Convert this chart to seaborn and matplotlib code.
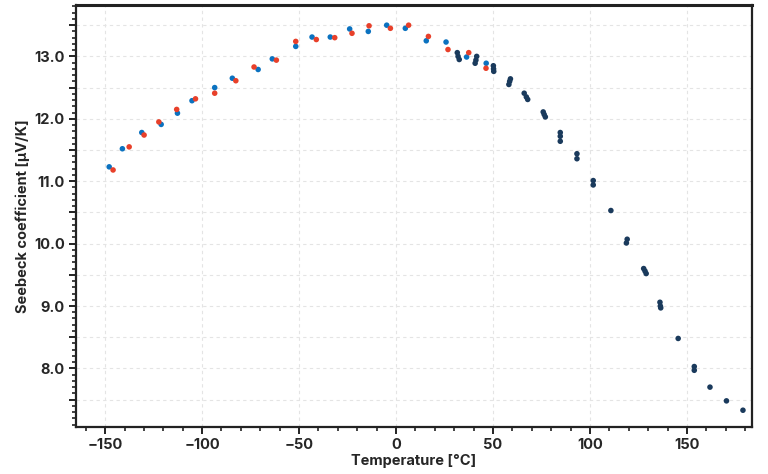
import seaborn as sns
import numpy as np
import pandas as pd
import matplotlib
matplotlib.use("Agg")
import matplotlib.pyplot as plt
from matplotlib.ticker import MultipleLocator, FuncFormatter


# series 1 (blue)
t_blue = [-147.9, -141.1, -131.1, -121.1, -112.7, -105.2, -93.5, -84.4, -71.1, -63.8,
          -51.7, -43.3, -33.9, -23.9, -14.3, -4.8, 4.8, 15.6, 25.8, 36.4, 46.5]
s_blue = [11.23, 11.52, 11.78, 11.91, 12.09, 12.29, 12.50, 12.65, 12.79, 12.96,
          13.16, 13.31, 13.31, 13.44, 13.40, 13.50, 13.45, 13.25, 13.23, 12.99, 12.89]

# series 2 (red)
t_red = [-145.9, -137.6, -129.9, -122.3, -113.1, -103.4, -93.5, -82.6, -73.2, -61.7,
         -51.7, -41.1, -31.6, -22.7, -13.9, -2.9, 6.5, 16.7, 26.8, 37.5, 46.4]
s_red = [11.18, 11.55, 11.74, 11.95, 12.15, 12.32, 12.41, 12.61, 12.83, 12.94,
         13.24, 13.27, 13.30, 13.37, 13.49, 13.45, 13.50, 13.32, 13.11, 13.06, 12.81]

# series 3 (navy)
t_navy = [31.6, 32.0, 32.6, 41.6, 41.2, 40.8, 50.2, 50.3, 50.4,
          59.0, 58.6, 58.2, 66.1, 67.2, 67.9, 75.9, 76.4, 77.0,
          84.7, 84.7, 84.7, 93.3, 93.3, 101.7, 101.7, 110.8,
          119.2, 118.8, 127.7, 128.4, 129.0, 136.1, 136.3, 136.5,
          145.5, 153.8, 153.8, 161.9, 170.4, 178.9]
s_navy = [13.06, 13.00, 12.95, 13.00, 12.94, 12.89, 12.85, 12.80, 12.76,
          12.64, 12.60, 12.55, 12.41, 12.35, 12.31, 12.11, 12.07, 12.03,
          11.78, 11.72, 11.64, 11.44, 11.36, 11.01, 10.94, 10.53,
          10.07, 10.01, 9.60, 9.56, 9.52, 9.06, 9.00, 8.97,
          8.48, 8.03, 7.97, 7.70, 7.48, 7.33]

series_names = ["run 1", "run 2", "run 3"]
series_colors = ["#0b72c0", "#e8402a", "#1a3a5c"]

df = pd.concat([
    pd.DataFrame({"T": t_blue, "S": s_blue, "run": series_names[0]}),
    pd.DataFrame({"T": t_red, "S": s_red, "run": series_names[1]}),
    pd.DataFrame({"T": t_navy, "S": s_navy, "run": series_names[2]}),
])

sns.set_style("white")
plt.rcParams["font.family"] = ["Inter", "DejaVu Sans"]

fig = plt.figure(figsize=(7.68, 4.74), dpi=100)
ax = fig.add_axes([0.099, 0.099, 0.880, 0.890])

sns.scatterplot(data=df, x="T", y="S", hue="run", palette=series_colors,
                s=16, linewidth=0, legend=False, ax=ax, zorder=3)

ax.set_xlim(-165, 183.5)
ax.set_ylim(7.06, 13.82)

ax.xaxis.set_major_locator(MultipleLocator(50))
ax.xaxis.set_minor_locator(MultipleLocator(10))
ax.yaxis.set_major_locator(MultipleLocator(0.5))
ax.yaxis.set_minor_locator(MultipleLocator(0.1))
ax.yaxis.set_major_formatter(FuncFormatter(lambda v, p: f"{v:.1f}" if abs(v - round(v)) < 1e-6 else ""))

ax.grid(True, which="major", color="#e4e4e4", linestyle=(0, (3, 3)), linewidth=0.8)
ax.set_axisbelow(True)

for side in ["left", "bottom", "top", "right"]:
    ax.spines[side].set_color("#222222")
    ax.spines[side].set_linewidth(1.6)
ax.spines["top"].set_linewidth(2.2)

ax.tick_params(which="major", direction="out", length=5, width=1.4, color="#222222",
               labelsize=10.5, bottom=True, left=True, top=False, right=False, pad=3)
ax.tick_params(which="minor", direction="out", length=3, width=1.2, color="#222222",
               bottom=True, left=True, top=False, right=False)
for lab in ax.get_xticklabels() + ax.get_yticklabels():
    lab.set_fontweight("bold")

ax.set_xlabel("Temperature [°C]", fontsize=10.5, fontweight="bold", labelpad=1)
ax.set_ylabel("Seebeck coefficient [µV/K]", fontsize=10.5, fontweight="bold", labelpad=3)

fig.savefig("out.png", dpi=100)
